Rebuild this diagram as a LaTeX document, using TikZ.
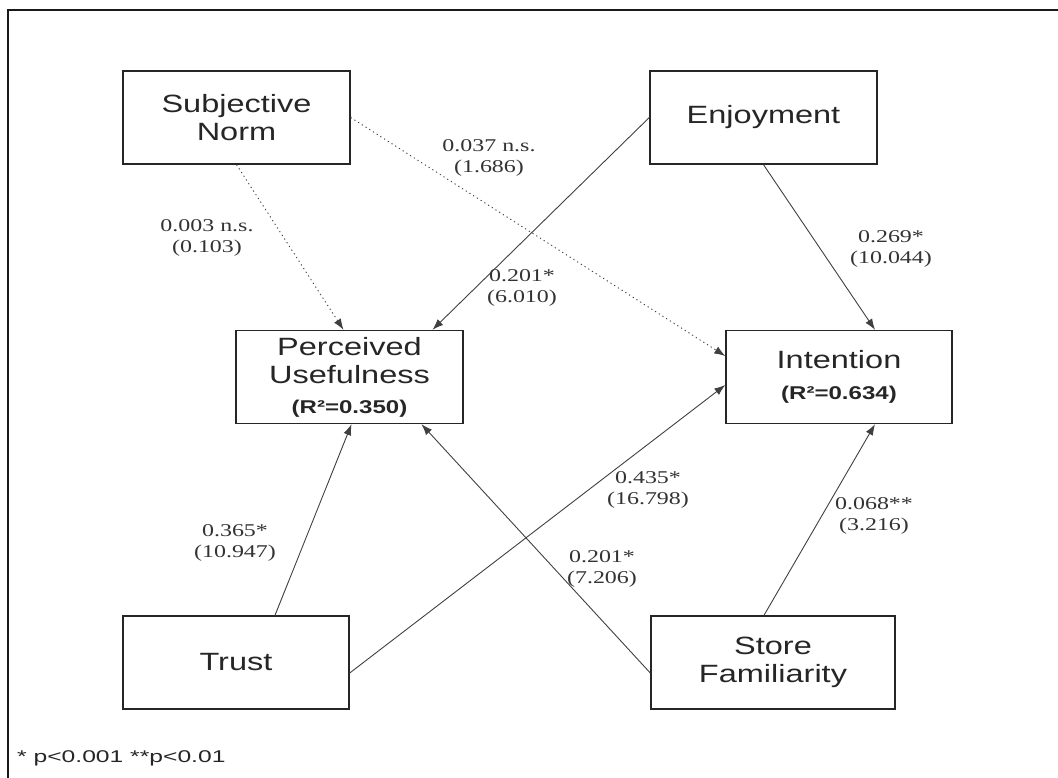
\documentclass[tikz,border=0pt]{standalone}
\usepackage{fontspec}
\setmainfont{Liberation Serif}
\newfontfamily\boxfont[FakeStretch=1.3]{Liberation Sans}
\newfontfamily\notefont[FakeStretch=1.45]{Liberation Sans}
\newfontfamily\coeffont[FakeStretch=1.33]{Liberation Serif}
\newcommand\rsqline[1]{{\bfseries\fontsize{18.5}{22}\selectfont #1}}
\usetikzlibrary{arrows.meta}
\begin{document}
\begin{tikzpicture}[x=1pt,y=-1pt,
  construct/.style={draw=black!85, line width=1.4pt, inner sep=0pt,
    minimum height=93pt, minimum width=227pt, align=center, text=black!85,
    font=\boxfont\fontsize{25}{28}\selectfont},
  effect/.style={draw=black!75, line width=0.9pt,
    -{Latex[length=11pt,width=8pt]}},
  nseffect/.style={effect, dash pattern=on 1.2pt off 3.2pt},
  coef/.style={align=center, text=black!80, inner sep=0pt,
    font=\coeffont\fontsize{18}{21}\selectfont}]

\useasboundingbox (0,0) rectangle (1058,778);

% outer frame (top and left edges)
\draw[line width=2pt, black!90] (8,778) -- (8,10) -- (1058,10);

% constructs
\node[construct] (sn) at (236.5,117.5) {Subjective\\Norm};
\node[construct] (enj) at (763.5,117.5) {Enjoyment};
\node[construct] (pu) at (349.5,377) {Perceived\\Usefulness\\[2pt]\rsqline{(R²=0.350)}};
\node[construct, minimum width=226pt] (int) at (839,377) {Intention\\[3pt]\rsqline{(R²=0.634)}};
\node[construct, minimum width=226pt] (tr) at (236,662.5) {Trust};
\node[construct, minimum width=244pt] (sf) at (773,662.5) {Store\\Familiarity};

% paths
\draw[nseffect] (sn.south) -- ([xshift=-6pt]pu.north);
\draw[nseffect] (sn.east) -- ([yshift=21pt]int.west);
\draw[effect] (enj.west) -- ([xshift=83pt]pu.north);
\draw[effect] (enj.south) -- ([xshift=36pt]int.north);
\draw[effect] ([xshift=39pt]tr.north) -- ([xshift=2pt]pu.south);
\draw[effect] ([yshift=-10.5pt]tr.east) -- ([yshift=-8pt]int.west);
\draw[effect] ([yshift=-10.5pt]sf.west) -- ([xshift=72pt]pu.south);
\draw[effect] ([xshift=-9pt]sf.north) -- ([xshift=36pt]int.south);

% path coefficients (t-values)
\node[coef] (c1) at (489,157.5) {0.037 n.s.\\(1.686)};
\node[coef] (c2) at (207,237.5) {0.003 n.s.\\(0.103)};
\node[coef] (c3) at (522,288) {0.201*\\(6.010)};
\node[coef] (c4) at (891,248.5) {0.269*\\(10.044)};
\node[coef] (c5) at (235,543) {0.365*\\(10.947)};
\node[coef] (c6) at (648,489.5) {0.435*\\(16.798)};
\node[coef] (c7) at (602,568.5) {0.201*\\(7.206)};
\node[coef] (c8) at (874,516) {0.068**\\(3.216)};

% significance note
\node[anchor=west, inner sep=0pt, text=black!85,
  font=\notefont\fontsize{17}{20}\selectfont] (note) at (17,758) {* p<0.001 **p<0.01};
\end{tikzpicture}
\end{document}
